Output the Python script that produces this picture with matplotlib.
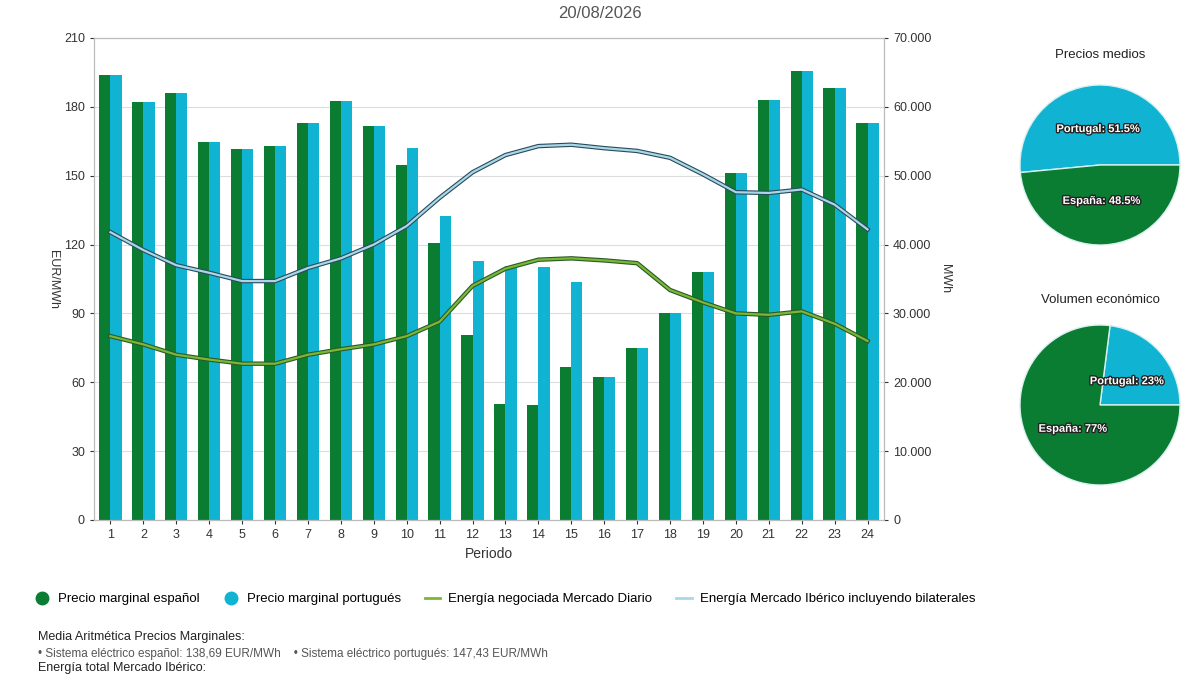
import matplotlib
matplotlib.use("Agg")
import matplotlib.pyplot as plt
import matplotlib.patheffects as pe
from matplotlib.lines import Line2D

plt.rcParams['font.family'] = ['Liberation Sans', 'DejaVu Sans']

periods = list(range(1, 25))
precio_es = [194, 182, 186, 164.7, 161.6, 163, 173, 182.5, 171.7, 154.7, 120.7, 80.6,
             50.5, 50, 66.7, 62.3, 75, 90, 108, 151, 183, 195.6, 188, 173]
precio_pt = [194, 182, 186, 164.7, 161.6, 163, 173, 182.5, 171.7, 162, 132.5, 112.8,
             110.7, 110.2, 103.7, 62.3, 75, 90, 108, 151, 183, 195.6, 188, 173]
energia_iberico = [41800, 39200, 37000, 35900, 34700, 34700, 36600, 38000, 40000, 42700,
                   46800, 50500, 53000, 54300, 54500, 54000, 53600, 52600, 50200, 47600,
                   47500, 48000, 45800, 42200]
energia_diario = [26700, 25500, 24000, 23300, 22700, 22700, 24000, 24800, 25500, 26700,
                  28800, 34000, 36500, 37800, 38000, 37700, 37300, 33400, 31600, 30000,
                  29800, 30300, 28500, 26000]
pie1_labels = ["Portugal", "España"]
pie1_values = [51.5, 48.5]
pie2_labels = ["Portugal", "España"]
pie2_values = [23, 77]

GREEN = "#0a7d33"
CYAN = "#10b4d2"
LGREEN = "#7ab734"
LBLUE = "#a8d8e8"
GRID = "#dddddd"
TXT = "#333333"

W, H = 1200, 675
fig = plt.figure(figsize=(12, 6.75), dpi=100)

def ax_px(x0, y0, x1, y1):
    return fig.add_axes([x0 / W, 1 - y1 / H, (x1 - x0) / W, (y1 - y0) / H])

ax = ax_px(94, 38, 884, 520)
x = range(len(periods))
w = 0.34
ax.bar([i - w / 2 for i in x], precio_es, width=w, color=GREEN, zorder=2)
ax.bar([i + w / 2 for i in x], precio_pt, width=w, color=CYAN, zorder=2)
ax.set_xlim(-0.5, 23.5)
ax.set_ylim(0, 210)
ax.set_yticks(range(0, 211, 30))
ax.set_xticks(list(x))
ax.set_xticklabels([str(p) for p in periods])
ax.grid(axis='y', color=GRID, lw=0.8, zorder=0)
ax.tick_params(labelsize=9, colors=TXT, length=3)
for s in ax.spines.values():
    s.set_color("#bbbbbb")
ax.set_xlabel("Periodo", fontsize=10, color=TXT)
ax.set_ylabel("EUR/MWh", fontsize=9, color=TXT, rotation=270, labelpad=12)

ax2 = ax.twinx()
ax2.plot(list(x), energia_iberico, color="#2a4a5a", lw=3.2, zorder=3)
ax2.plot(list(x), energia_iberico, color=LBLUE, lw=1.6, zorder=4)
ax2.plot(list(x), energia_diario, color="#2a5a2a", lw=3.2, zorder=3)
ax2.plot(list(x), energia_diario, color=LGREEN, lw=1.6, zorder=4)
ax2.set_ylim(0, 70000)
ax2.set_yticks(range(0, 70001, 10000))
ax2.set_yticklabels(["0"] + [f"{v//1000}.000" for v in range(10000, 70001, 10000)])
ax2.tick_params(labelsize=9, colors=TXT, length=3)
ax2.set_ylabel("MWh", fontsize=9, color=TXT, rotation=270, labelpad=14)
for s in ax2.spines.values():
    s.set_color("#bbbbbb")

fig.text(600 / W, 1 - 13 / H, "20/08/2026", ha='center', va='center', fontsize=12, color="#555555")

handles = [
    Line2D([], [], marker='o', ls='', color=GREEN, markersize=9),
    Line2D([], [], marker='o', ls='', color=CYAN, markersize=9),
    Line2D([], [], color=LGREEN, lw=2),
    Line2D([], [], color=LBLUE, lw=2),
]
labels = ["Precio marginal español", "Precio marginal portugués",
          "Energía negociada Mercado Diario", "Energía Mercado Ibérico incluyendo bilaterales"]
fig.legend(handles, labels, loc='center left', bbox_to_anchor=(22 / W, 1 - 599 / H),
           ncol=4, frameon=False, fontsize=9.5, handlelength=1.2, columnspacing=1.8,
           handletextpad=0.6)

fig.text(38 / W, 1 - 637 / H, "Media Aritmética Precios Marginales:", fontsize=9, color="#222222",
         va='center')
fig.text(38 / W, 1 - 654 / H,
         "• Sistema eléctrico español: 138,69 EUR/MWh    • Sistema eléctrico portugués: 147,43 EUR/MWh",
         fontsize=8.5, color="#555555", va='center')
fig.text(38 / W, 1 - 668 / H, "Energía total Mercado Ibérico:", fontsize=9, color="#222222",
         va='center')

def pie(cx, cy, r, vals, labs, title, ty):
    pa = ax_px(cx - r, cy - r, cx + r, cy + r)
    wedges, texts = pa.pie(vals, colors=[CYAN, GREEN], startangle=0, counterclock=True,
                           wedgeprops=dict(edgecolor="#d8f0f0", linewidth=1),
                           labels=[f"{l}: {v:g}%" for l, v in zip(labs, vals)],
                           labeldistance=0.45)
    for t in texts:
        t.set_color("white")
        t.set_fontsize(8)
        t.set_fontweight('bold')
        t.set_ha('center')
        t.set_path_effects([pe.withStroke(linewidth=2, foreground="#222222")])
    pa.set_xlim(-1, 1)
    pa.set_ylim(-1, 1)
    pa.set_aspect('equal')
    fig.text(cx / W, 1 - ty / H, title, ha='center', va='center', fontsize=9.5, color="#222222")

pie(1100, 165, 80, pie1_values, pie1_labels, "Precios medios", 55)
pie(1100, 405, 80, pie2_values, pie2_labels, "Volumen económico", 300)

fig.savefig("out.png", dpi=100, facecolor="white")
